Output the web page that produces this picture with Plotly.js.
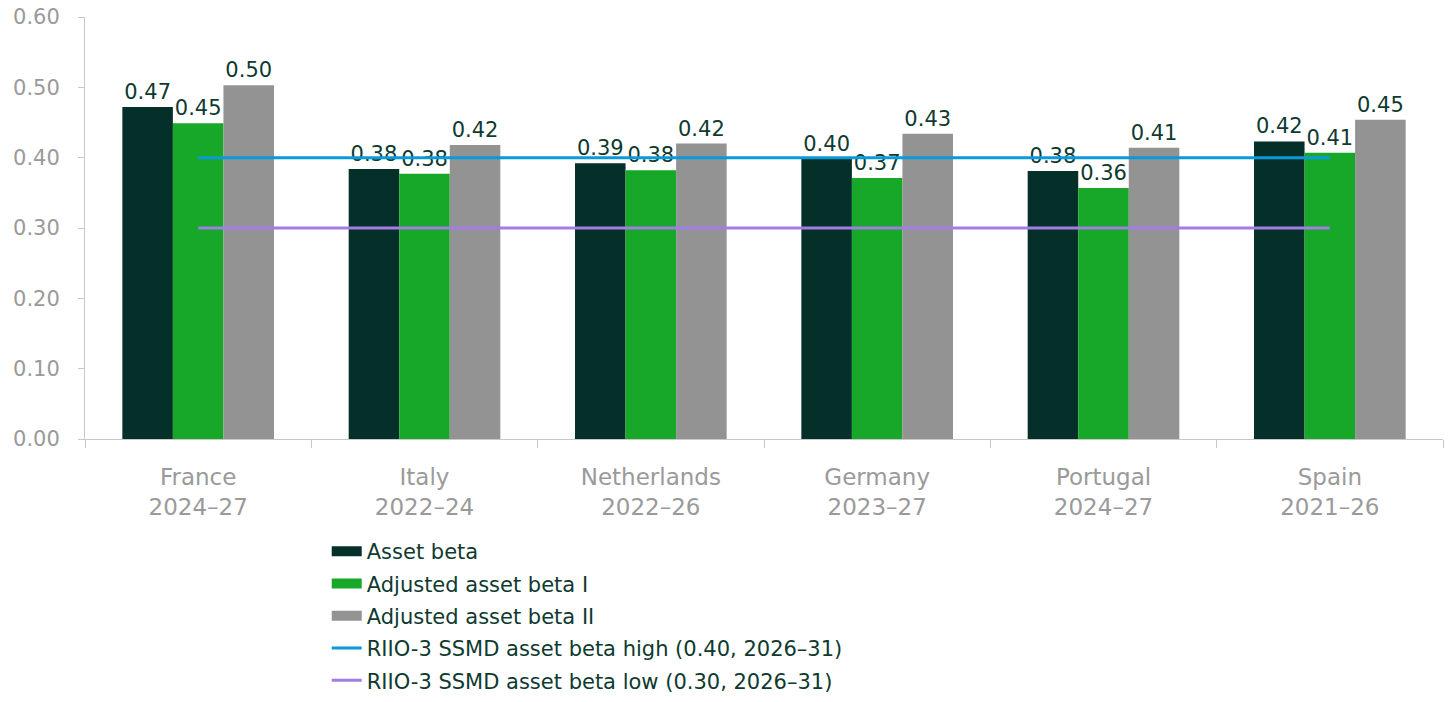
<!DOCTYPE html>
<html>
<head>
<meta charset="utf-8">
<script src="https://cdn.plot.ly/plotly-3.0.1.min.js"></script>
<style>html,body{margin:0;padding:0;background:#fff;}#chart{width:1455px;height:702px;}</style>
</head>
<body>
<div id="chart"></div>
<script>
const categories = ["France<br>2024–27", "Italy<br>2022–24", "Netherlands<br>2022–26", "Germany<br>2023–27", "Portugal<br>2024–27", "Spain<br>2021–26"];
const assetBeta = [0.472, 0.384, 0.392, 0.398, 0.381, 0.423];
const adjustedBetaI = [0.449, 0.377, 0.382, 0.371, 0.357, 0.407];
const adjustedBetaII = [0.503, 0.418, 0.420, 0.434, 0.414, 0.454];
const highBeta = 0.40;
const lowBeta = 0.30;
const seriesNames = ["Asset beta", "Adjusted asset beta I", "Adjusted asset beta II", "RIIO-3 SSMD asset beta high (0.40, 2026–31)", "RIIO-3 SSMD asset beta low (0.30, 2026–31)"];
const seriesColors = ["#05302a", "#17a829", "#939393", "#0a9ad8", "#a27de3"];

const font = "'DejaVu Sans', Verdana, sans-serif";
const textColor = "#0e3a30";
const labelFont = {family: font, size: 21, color: textColor};

function barTrace(i, values) {
  return {
    type: "bar", name: seriesNames[i], x: categories, y: values,
    marker: {color: seriesColors[i]}, showlegend: false,
    text: values.map(v => v.toFixed(2)),
    textposition: "outside",
    textfont: labelFont, cliponaxis: false, hoverinfo: "skip"
  };
}
function legendSwatch(i) {
  return {type: "scatter", mode: "lines", name: seriesNames[i], x: [null], y: [null],
    line: {color: seriesColors[i], width: 19}, legendgroup: "g" + i, hoverinfo: "skip"};
}
const first = categories[0], last = categories[categories.length - 1];
const data = [
  barTrace(0, assetBeta),
  barTrace(1, adjustedBetaI),
  barTrace(2, adjustedBetaII),
  legendSwatch(0), legendSwatch(1), legendSwatch(2),
  {type: "scatter", mode: "lines", name: seriesNames[3], x: [first, last], y: [highBeta, highBeta], line: {color: seriesColors[3], width: 3}, legendgroup: "g3"},
  {type: "scatter", mode: "lines", name: seriesNames[4], x: [first, last], y: [lowBeta, lowBeta], line: {color: seriesColors[4], width: 3}, legendgroup: "g4"}
];
const layout = {
  width: 1455, height: 702,
  margin: {l: 85, r: 12, t: 17, b: 263, autoexpand: false},
  paper_bgcolor: "#fff", plot_bgcolor: "#fff",
  barmode: "group", bargap: 0.33, bargroupgap: 0,
  showlegend: true,
  font: {family: font, size: 21, color: textColor},
  xaxis: {
    type: "category", showgrid: false, zeroline: false, automargin: false,
    showline: true, linecolor: "#c8c8c8", linewidth: 1,
    ticks: "outside", tickson: "boundaries", ticklen: 8, tickcolor: "#c8c8c8",
    tickfont: {family: font, size: 23, color: "#9a9a9a"},
    ticklabelstandoff: 17
  },
  yaxis: {
    range: [0, 0.6], dtick: 0.1, tickformat: ".2f", automargin: false,
    showgrid: false, zeroline: false,
    showline: true, linecolor: "#c8c8c8", linewidth: 1,
    ticks: "outside", ticklen: 6, tickcolor: "#c8c8c8",
    tickfont: {family: font, size: 21, color: "#9a9a9a"},
    ticklabelstandoff: 14
  },
  legend: {
    orientation: "v", x: 0.178, xanchor: "left", y: -0.218, yanchor: "top",
    font: {family: font, size: 21, color: textColor},
    tracegroupgap: 2, traceorder: "grouped"
  }
};
Plotly.newPlot("chart", data, layout, {displayModeBar: false, staticPlot: true});
</script>
</body>
</html>
